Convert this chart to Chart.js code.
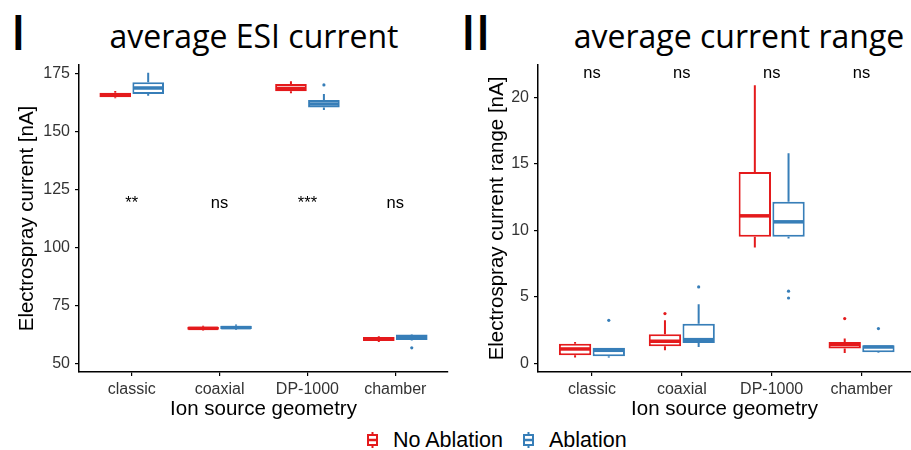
<!DOCTYPE html>
<html>
<head>
<meta charset="utf-8">
<script src="https://cdn.jsdelivr.net/npm/chart.js@4.4.1/dist/chart.umd.min.js"></script>
<style>
  body { margin: 0; width: 911px; height: 450px; overflow: hidden; background: #fff; position: relative; font-family: "Liberation Sans", Arial, sans-serif; }
  canvas { position: absolute; top: 0; }
  .num { position: absolute; top: 0; font-family: "Open Sans", sans-serif; font-weight: 600; font-size: 48px; line-height: 64px; color: #000; }
  .ttl { position: absolute; top: 20px; font-family: "Open Sans", sans-serif; font-size: 32px; line-height: 32px; color: #000; text-align: center; white-space: nowrap; }
  #legend { position: absolute; left: 367px; top: 428px; display: flex; align-items: center; font-size: 21.5px; line-height: 24px; color: #000; white-space: nowrap; }
  #legend svg { margin-right: 15px; }
  #legend span { margin-right: 20px; }
</style>
</head>
<body>
<div class="num" style="left:11px">I</div>
<div class="ttl" style="left:54px;width:400px">average ESI current</div>
<div class="num" style="left:461px">II</div>
<div class="ttl" style="left:539px;width:400px">average current range</div>
<canvas id="esiChart" width="455" height="425" style="left:0"></canvas>
<canvas id="rangeChart" width="456" height="425" style="left:455px"></canvas>
<div id="legend"></div>

<script>
const categories = ['classic', 'coaxial', 'DP-1000', 'chamber'];
const seriesNames = ['No Ablation', 'Ablation'];
const seriesColors = ['#E41A1C', '#377EB8'];

// Panel I - ESI current [nA]; each entry: [lower whisker, Q1, median, Q3, upper whisker]
const esiNoAblation = [
  [164.3, 164.7, 165.6, 166.6, 167.4],
  [64.3, 64.6, 65.2, 65.9, 66.3],
  [166.4, 167.3, 168.5, 170.4, 171.6],
  [59.3, 59.8, 60.7, 61.5, 61.8]
];
const esiAblation = [
  [165.4, 166.1, 168.7, 171.2, 175.3],
  [64.6, 64.9, 65.5, 66.3, 66.9],
  [159.2, 160.3, 161.8, 163.5, 166.1],
  [60.0, 60.2, 61.5, 62.5, 62.8]
];
// outliers: [category index, value]
const esiNoAblationOut = [];
const esiAblationOut = [[2, 170.0], [3, 56.8]];
const esiSignif = ['**', 'ns', '***', 'ns'];
const esiTicks = [50, 75, 100, 125, 150, 175];

// Panel II - current range [nA]
const rangeNoAblation = [
  [0.45, 0.62, 1.1, 1.5, 1.62],
  [1.0, 1.3, 1.68, 2.2, 3.25],
  [8.72, 9.52, 11.1, 14.4, 20.9],
  [0.8, 1.13, 1.43, 1.62, 1.88]
];
const rangeAblation = [
  [0.45, 0.55, 1.0, 1.2, 1.2],
  [1.25, 1.55, 1.8, 3.0, 4.46],
  [9.4, 9.52, 10.65, 12.15, 15.8],
  [0.8, 0.85, 1.25, 1.38, 1.38]
];
const rangeNoAblationOut = [[1, 3.76], [3, 3.38]];
const rangeAblationOut = [[0, 3.25], [1, 5.76], [2, 5.44], [2, 4.93], [3, 2.63]];
const rangeSignif = ['ns', 'ns', 'ns', 'ns'];
const rangeTicks = [0, 5, 10, 15, 20];

const tickFont = { family: 'Liberation Sans', size: 16 };
const titleFont = { family: 'Liberation Sans', size: 20.5 };

// whiskers, medians, outliers and significance labels on top of the box bars
const boxExtras = {
  id: 'boxExtras',
  afterDatasetsDraw(chart, args, opts) {
    const ctx = chart.ctx;
    const y = chart.scales.y;
    chart.data.datasets.forEach((ds, d) => {
      const meta = chart.getDatasetMeta(d);
      ctx.save();
      ctx.strokeStyle = ds.borderColor;
      ctx.fillStyle = ds.borderColor;
      meta.data.forEach((bar, i) => {
        const [lo, q1, med, q3, hi] = ds.stats[i];
        ctx.lineWidth = 2;
        ctx.beginPath();
        ctx.moveTo(bar.x, y.getPixelForValue(q3));
        ctx.lineTo(bar.x, y.getPixelForValue(hi));
        ctx.moveTo(bar.x, y.getPixelForValue(q1));
        ctx.lineTo(bar.x, y.getPixelForValue(lo));
        ctx.stroke();
        ctx.lineWidth = 3.5;
        ctx.beginPath();
        ctx.moveTo(bar.x - bar.width / 2 + 1, y.getPixelForValue(med));
        ctx.lineTo(bar.x + bar.width / 2 - 1, y.getPixelForValue(med));
        ctx.stroke();
      });
      ds.outliers.forEach(([i, v]) => {
        const bar = meta.data[i];
        ctx.beginPath();
        ctx.arc(bar.x, y.getPixelForValue(v), 1.6, 0, Math.PI * 2);
        ctx.fill();
      });
      ctx.restore();
    });

    ctx.save();
    ctx.font = '16.5px "Liberation Sans"';
    ctx.fillStyle = '#000';
    ctx.textAlign = 'center';
    ctx.textBaseline = 'alphabetic';
    opts.labels.forEach((t, i) => {
      ctx.fillText(t, chart.scales.x.getPixelForValue(i + 1), y.getPixelForValue(opts.labelY));
    });
    ctx.restore();
  }
};

function makePanel(id, noAbl, abl, noAblOut, ablOut, signif, signifY, yTicks, yMin, yMax, xMax, yTitle, yAxisWidth, yTitlePad, padRight) {
  const series = [noAbl, abl];
  const outs = [noAblOut, ablOut];
  const datasets = series.map((s, k) => ({
    label: seriesNames[k],
    data: s.map((v, i) => ({ x: i + 1, y: [v[1], v[3]] })),
    stats: s,
    outliers: outs[k],
    backgroundColor: '#fff',
    borderColor: seriesColors[k],
    borderWidth: 2,
    borderSkipped: false,
    categoryPercentage: 0.75,
    barPercentage: 0.96
  }));

  return new Chart(document.getElementById(id), {
    type: 'bar',
    data: { datasets: datasets },
    plugins: [boxExtras],
    options: {
      responsive: false,
      animation: false,
      layout: { padding: { top: 65, right: padRight, left: 0, bottom: 0 } },
      plugins: {
        legend: { display: false },
        tooltip: { enabled: false },
        boxExtras: { labels: signif, labelY: signifY }
      },
      scales: {
        x: {
          type: 'linear',
          offset: false,
          min: 0.4,
          max: xMax,
          afterBuildTicks: (s) => { s.ticks = categories.map((c, i) => ({ value: i + 1 })); },
          afterFit: (s) => { s.height = 53; },
          grid: { display: true, offset: false, drawOnChartArea: false, drawTicks: true, tickLength: 4, color: '#000', lineWidth: 1.2 },
          border: { display: true, color: '#000', width: 1.5 },
          ticks: { color: '#333', font: tickFont, padding: 4, maxRotation: 0, callback: (v) => categories[v - 1] },
          title: { display: true, text: 'Ion source geometry', color: '#000', font: titleFont, padding: { top: 0, bottom: 3 } }
        },
        y: {
          min: yMin,
          max: yMax,
          afterBuildTicks: (s) => { s.ticks = yTicks.map((v) => ({ value: v })); },
          afterFit: (s) => { s.width = yAxisWidth; },
          grid: { display: true, drawOnChartArea: false, drawTicks: true, tickLength: 4, color: '#000', lineWidth: 1.2 },
          border: { display: true, color: '#000', width: 1.5 },
          ticks: { color: '#333', font: tickFont, padding: 5 },
          title: { display: true, text: yTitle, color: '#000', font: titleFont, padding: { top: yTitlePad, bottom: 0 } }
        }
      }
    }
  });
}

makePanel('esiChart', esiNoAblation, esiAblation, esiNoAblationOut, esiAblationOut,
  esiSignif, 117, esiTicks, 46.4, 178.6, 4.6, 'Electrospray current [nA]', 79, 15, 7);
makePanel('rangeChart', rangeNoAblation, rangeAblation, rangeNoAblationOut, rangeAblationOut,
  rangeSignif, 21.45, rangeTicks, -0.63, 22.43, 4.55, 'Electrospray current range [nA]', 83, 30, 0);

// legend built from the series names and colours
const legend = document.getElementById('legend');
seriesNames.forEach((name, k) => {
  const c = seriesColors[k];
  legend.insertAdjacentHTML('beforeend',
    '<svg width="11" height="16" viewBox="0 0 11 16">' +
    '<line x1="5.5" y1="0" x2="5.5" y2="16" stroke="' + c + '" stroke-width="2"/>' +
    '<rect x="1" y="3" width="9" height="10" fill="#fff" stroke="' + c + '" stroke-width="2"/>' +
    '<line x1="1" y1="8" x2="10" y2="8" stroke="' + c + '" stroke-width="2.5"/></svg>' +
    '<span>' + name + '</span>');
});
</script>
</body>
</html>
